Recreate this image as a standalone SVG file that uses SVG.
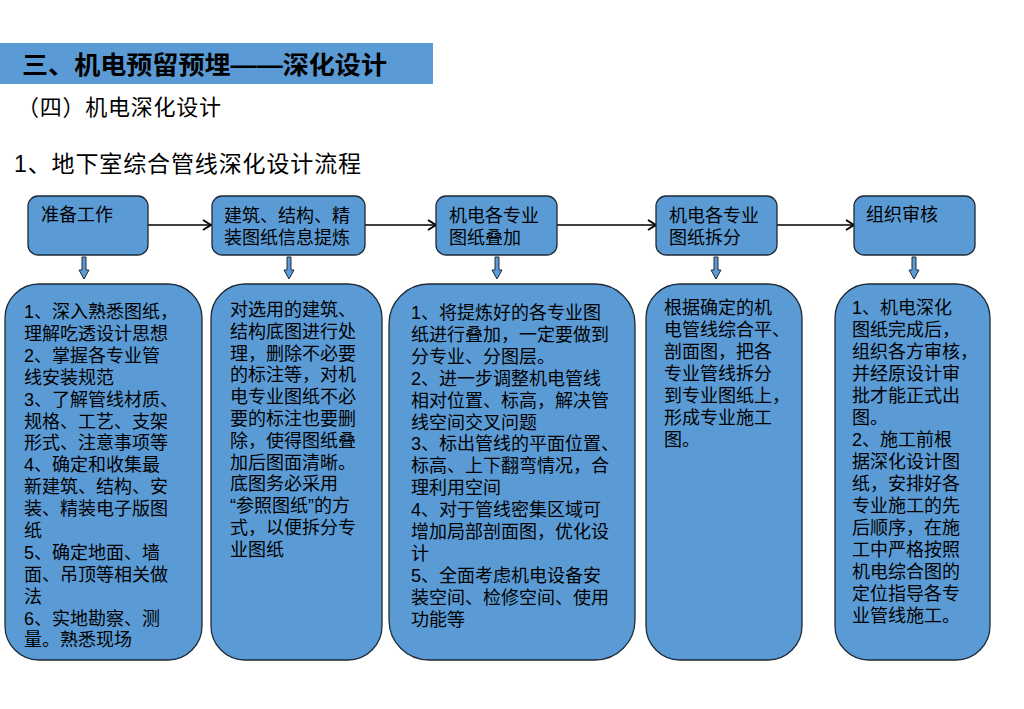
<svg xmlns="http://www.w3.org/2000/svg" width="1024" height="709" viewBox="0 0 1024 709">
<style>
.t{font-family:"Liberation Sans","Noto Sans CJK SC",sans-serif;fill:#000}
.b{font-size:18px}
.box{fill:#5b9bd5;stroke:#1e2a36;stroke-width:1.3}
.con{stroke:#000;stroke-width:1.3;fill:none}
.dn{fill:#5b9bd5;stroke:#1e2a36;stroke-width:1}
</style>
<defs>
<marker id="ah" markerWidth="10" markerHeight="12" refX="9" refY="6" orient="auto" markerUnits="userSpaceOnUse">
<path d="M1,1 L9,6 L1,11" fill="none" stroke="#000" stroke-width="2"/>
</marker>
</defs>
<rect width="1024" height="709" fill="#fff"/>
<g id="header">
<rect x="0" y="43" width="433" height="41" fill="#5b9bd5"/>
<text class="t" x="22" y="74" font-size="25" font-weight="700" textLength="365" lengthAdjust="spacingAndGlyphs">三、机电预留预埋——深化设计</text>
<text class="t" x="17" y="115" font-size="22" textLength="204" lengthAdjust="spacing">（四）机电深化设计</text>
<text class="t" x="14" y="172" font-size="23" textLength="347" lengthAdjust="spacing">1、地下室综合管线深化设计流程</text>
</g>
<g id="connectors">
<line class="con" x1="148" y1="225" x2="211" y2="225" marker-end="url(#ah)"/>
<line class="con" x1="365" y1="225" x2="436" y2="225" marker-end="url(#ah)"/>
<line class="con" x1="557" y1="225" x2="656" y2="225" marker-end="url(#ah)"/>
<line class="con" x1="777" y1="225" x2="854" y2="225" marker-end="url(#ah)"/>
<path class="dn" d="M82,257 h4 v13 h3 l-5,9 l-5,-9 h3 z"/>
<path class="dn" d="M287,257 h4 v13 h3 l-5,9 l-5,-9 h3 z"/>
<path class="dn" d="M495,257 h4 v13 h3 l-5,9 l-5,-9 h3 z"/>
<path class="dn" d="M714,257 h4 v13 h3 l-5,9 l-5,-9 h3 z"/>
<path class="dn" d="M912,257 h4 v13 h3 l-5,9 l-5,-9 h3 z"/>
</g>
<g id="step1">
<rect class="box" x="28" y="196" width="120" height="59" rx="10"/>
<text class="t b" x="41" y="221">准备工作</text>
</g>
<g id="step2">
<rect class="box" x="212" y="196" width="153" height="59" rx="10"/>
<text class="t b" x="224" y="222">建筑、结构、精</text>
<text class="t b" x="224" y="244">装图纸信息提炼</text>
</g>
<g id="step3">
<rect class="box" x="436" y="196" width="121" height="59" rx="10"/>
<text class="t b" x="449" y="222">机电各专业</text>
<text class="t b" x="449" y="244">图纸叠加</text>
</g>
<g id="step4">
<rect class="box" x="656" y="196" width="121" height="59" rx="10"/>
<text class="t b" x="669" y="222">机电各专业</text>
<text class="t b" x="669" y="244">图纸拆分</text>
</g>
<g id="step5">
<rect class="box" x="854" y="196" width="121" height="59" rx="10"/>
<text class="t b" x="866" y="221">组织审核</text>
</g>
<g id="detail1">
<rect class="box" x="5" y="284" width="197" height="376" rx="34"/>
<text class="t b">
<tspan x="24" y="318">1、深入熟悉图纸，</tspan>
<tspan x="24" dy="21.9">理解吃透设计思想</tspan>
<tspan x="24" dy="21.9">2、掌握各专业管</tspan>
<tspan x="24" dy="21.9">线安装规范</tspan>
<tspan x="24" dy="21.9">3、了解管线材质、</tspan>
<tspan x="24" dy="21.9">规格、工艺、支架</tspan>
<tspan x="24" dy="21.9">形式、注意事项等</tspan>
<tspan x="24" dy="21.9">4、确定和收集最</tspan>
<tspan x="24" dy="21.9">新建筑、结构、安</tspan>
<tspan x="24" dy="21.9">装、精装电子版图</tspan>
<tspan x="24" dy="21.9">纸</tspan>
<tspan x="24" dy="21.9">5、确定地面、墙</tspan>
<tspan x="24" dy="21.9">面、吊顶等相关做</tspan>
<tspan x="24" dy="21.9">法</tspan>
<tspan x="24" dy="21.9">6、实地勘察、测</tspan>
<tspan x="24" dy="21.9">量。熟悉现场</tspan>
</text>
</g>
<g id="detail2">
<rect class="box" x="211" y="284" width="171" height="376" rx="34"/>
<text class="t b">
<tspan x="230" y="316">对选用的建筑、</tspan>
<tspan x="230" dy="21.8">结构底图进行处</tspan>
<tspan x="230" dy="21.8">理，删除不必要</tspan>
<tspan x="230" dy="21.8">的标注等，对机</tspan>
<tspan x="230" dy="21.8">电专业图纸不必</tspan>
<tspan x="230" dy="21.8">要的标注也要删</tspan>
<tspan x="230" dy="21.8">除，使得图纸叠</tspan>
<tspan x="230" dy="21.8">加后图面清晰。</tspan>
<tspan x="230" dy="21.8">底图务必采用</tspan>
<tspan x="230" dy="21.8">“参照图纸”的方</tspan>
<tspan x="230" dy="21.8">式，以便拆分专</tspan>
<tspan x="230" dy="21.8">业图纸</tspan>
</text>
</g>
<g id="detail3">
<rect class="box" x="389" y="284" width="246" height="376" rx="40"/>
<text class="t b">
<tspan x="411" y="319">1、将提炼好的各专业图</tspan>
<tspan x="411" dy="21.9">纸进行叠加，一定要做到</tspan>
<tspan x="411" dy="21.9">分专业、分图层。</tspan>
<tspan x="411" dy="21.9">2、进一步调整机电管线</tspan>
<tspan x="411" dy="21.9">相对位置、标高，解决管</tspan>
<tspan x="411" dy="21.9">线空间交叉问题</tspan>
<tspan x="411" dy="21.9">3、标出管线的平面位置、</tspan>
<tspan x="411" dy="21.9">标高、上下翻弯情况，合</tspan>
<tspan x="411" dy="21.9">理利用空间</tspan>
<tspan x="411" dy="21.9">4、对于管线密集区域可</tspan>
<tspan x="411" dy="21.9">增加局部剖面图，优化设</tspan>
<tspan x="411" dy="21.9">计</tspan>
<tspan x="411" dy="21.9">5、全面考虑机电设备安</tspan>
<tspan x="411" dy="21.9">装空间、检修空间、使用</tspan>
<tspan x="411" dy="21.9">功能等</tspan>
</text>
</g>
<g id="detail4">
<rect class="box" x="646" y="284" width="156" height="376" rx="34"/>
<text class="t b">
<tspan x="664" y="314">根据确定的机</tspan>
<tspan x="664" dy="22">电管线综合平、</tspan>
<tspan x="664" dy="22">剖面图，把各</tspan>
<tspan x="664" dy="22">专业管线拆分</tspan>
<tspan x="664" dy="22">到专业图纸上，</tspan>
<tspan x="664" dy="22">形成专业施工</tspan>
<tspan x="664" dy="22">图。</tspan>
</text>
</g>
<g id="detail5">
<rect class="box" x="835" y="284" width="155" height="376" rx="34"/>
<text class="t b">
<tspan x="852" y="314">1、机电深化</tspan>
<tspan x="852" dy="22">图纸完成后，</tspan>
<tspan x="852" dy="22">组织各方审核，</tspan>
<tspan x="852" dy="22">并经原设计审</tspan>
<tspan x="852" dy="22">批才能正式出</tspan>
<tspan x="852" dy="22">图。</tspan>
<tspan x="852" dy="22">2、施工前根</tspan>
<tspan x="852" dy="22">据深化设计图</tspan>
<tspan x="852" dy="22">纸，安排好各</tspan>
<tspan x="852" dy="22">专业施工的先</tspan>
<tspan x="852" dy="22">后顺序，在施</tspan>
<tspan x="852" dy="22">工中严格按照</tspan>
<tspan x="852" dy="22">机电综合图的</tspan>
<tspan x="852" dy="22">定位指导各专</tspan>
<tspan x="852" dy="22">业管线施工。</tspan>
</text>
</g>
</svg>
